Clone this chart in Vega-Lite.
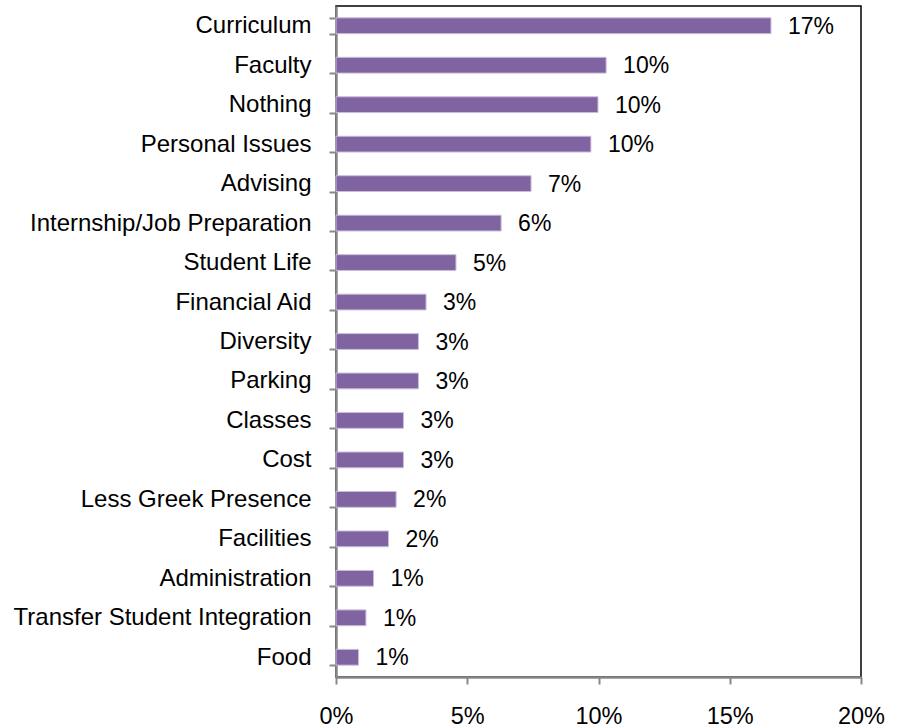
{
  "$schema": "https://vega.github.io/schema/vega-lite/v6.json",
  "width": 525,
  "height": 671,
  "autosize": "none",
  "padding": {"left": 336, "top": 6, "right": 45, "bottom": 50},
  "background": "white",
  "config": {
    "font": "Liberation Sans",
    "view": {"stroke": "#000000", "strokeWidth": 1.5}
  },
  "data": {
    "values": [
      {"category": "Curriculum", "value": 0.1657},
      {"category": "Faculty", "value": 0.1029},
      {"category": "Nothing", "value": 0.0998},
      {"category": "Personal Issues", "value": 0.0971},
      {"category": "Advising", "value": 0.0743},
      {"category": "Internship/Job Preparation", "value": 0.0629},
      {"category": "Student Life", "value": 0.0457},
      {"category": "Financial Aid", "value": 0.0343},
      {"category": "Diversity", "value": 0.0314},
      {"category": "Parking", "value": 0.0314},
      {"category": "Classes", "value": 0.0257},
      {"category": "Cost", "value": 0.0257},
      {"category": "Less Greek Presence", "value": 0.0229},
      {"category": "Facilities", "value": 0.0200},
      {"category": "Administration", "value": 0.0143},
      {"category": "Transfer Student Integration", "value": 0.0114},
      {"category": "Food", "value": 0.0086}
    ]
  },
  "encoding": {
    "y": {
      "field": "category",
      "type": "nominal",
      "sort": null,
      "scale": {"paddingInner": 0.6, "paddingOuter": 0.3},
      "axis": {
        "title": null,
        "labelFontSize": 24,
        "labelColor": "#000000",
        "labelPadding": 18,
        "tickBand": "extent",
        "tickSize": 7,
        "tickColor": "#888888",
        "tickWidth": 2,
        "domainColor": "#888888",
        "domainWidth": 2.5,
        "labelLimit": 400
      }
    },
    "x": {
      "field": "value",
      "type": "quantitative",
      "scale": {"domain": [0, 0.2], "nice": false},
      "axis": {
        "title": null,
        "format": ".0%",
        "values": [0, 0.05, 0.1, 0.15, 0.2],
        "grid": false,
        "labelFlush": false,
        "labelOverlap": false,
        "labelFontSize": 23.5,
        "labelColor": "#000000",
        "labelPadding": 20,
        "tickSize": 7,
        "tickColor": "#888888",
        "tickWidth": 2,
        "domainColor": "#888888",
        "domainWidth": 2.5
      }
    }
  },
  "layer": [
    {
      "mark": {"type": "bar", "color": "#8064A2", "stroke": "#c9bddb", "strokeWidth": 1}
    },
    {
      "mark": {"type": "text", "align": "left", "baseline": "middle", "dx": 17, "dy": 1, "fontSize": 23, "color": "#000000"},
      "encoding": {
        "text": {"field": "value", "type": "quantitative", "format": ".0%"}
      }
    }
  ]
}
